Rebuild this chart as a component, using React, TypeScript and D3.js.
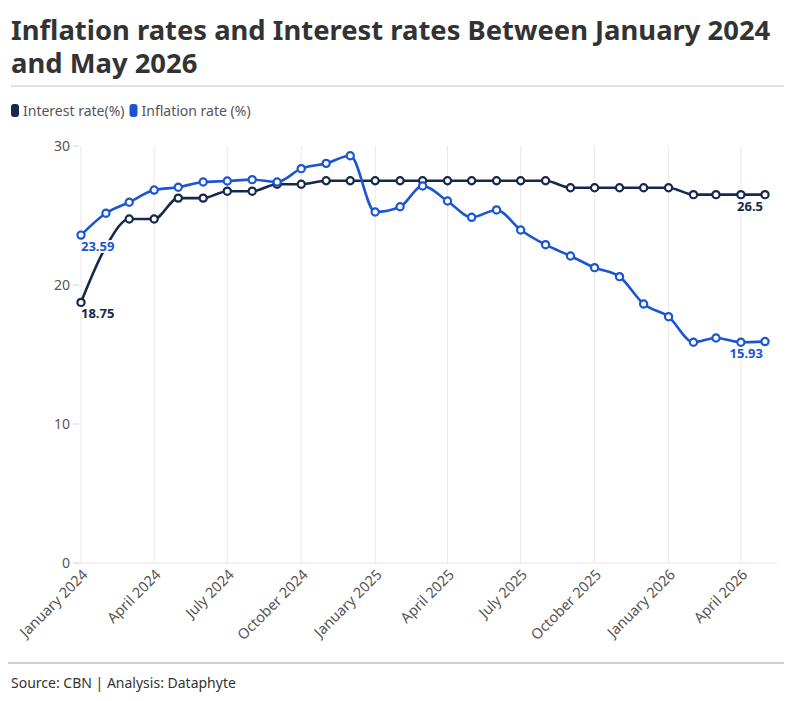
import { useRef, useEffect } from 'react'
import * as d3 from 'd3'

const WIDTH = 794
const HEIGHT = 701
const FONT = '"Noto Sans", sans-serif'

const DARK = '#15284d'
const BLUE = '#1b55d4'

// Monthly observations, January 2024 .. May 2026
const MONTHS = [
  '2024-01', '2024-02', '2024-03', '2024-04', '2024-05', '2024-06',
  '2024-07', '2024-08', '2024-09', '2024-10', '2024-11', '2024-12',
  '2025-01', '2025-02', '2025-03', '2025-04', '2025-05', '2025-06',
  '2025-07', '2025-08', '2025-09', '2025-10', '2025-11', '2025-12',
  '2026-01', '2026-02', '2026-03', '2026-04', '2026-05',
]

const INTEREST = [
  18.75, 22.75, 24.75, 24.75, 26.25, 26.25, 26.75, 26.75, 27.25, 27.25, 27.5, 27.5,
  27.5, 27.5, 27.5, 27.5, 27.5, 27.5, 27.5, 27.5, 27, 27, 27, 27,
  27, 26.5, 26.5, 26.5, 26.5,
]

const INFLATION = [
  23.59, 25.16, 25.95, 26.83, 27.03, 27.41, 27.48, 27.58, 27.41, 28.37, 28.75, 29.3,
  25.25, 25.63, 27.12, 26.04, 24.87, 25.4, 23.96, 22.9, 22.09, 21.25, 20.6, 18.63,
  17.72, 15.88, 16.19, 15.88, 15.93,
]

const X_TICKS = ['2024-01', '2024-04', '2024-07', '2024-10', '2025-01', '2025-04', '2025-07', '2025-10', '2026-01', '2026-04']
const Y_TICKS = [0, 10, 20, 30]

const SERIES = [
  { name: 'Interest rate(%)', values: INTEREST, color: DARK },
  { name: 'Inflation rate (%)', values: INFLATION, color: BLUE },
]

const parseMonth = d3.timeParse('%Y-%m')

export default function App() {
  const svgRef = useRef<SVGSVGElement>(null)

  useEffect(() => {
    if (!svgRef.current) return
    const svg = d3.select(svgRef.current)
    svg.selectAll('*').remove()

    const dates = MONTHS.map((m) => parseMonth(m) as Date)
    const x = d3.scaleTime().domain([dates[0], dates[dates.length - 1]]).range([81, 765])
    const y = d3.scaleLinear().domain([0, 30]).range([563, 146])

    // Title
    const title = svg.append('text')
      .attr('font-family', FONT).attr('font-weight', 700).attr('font-size', 27.4)
      .attr('fill', '#333333')
    title.append('tspan').attr('x', 11).attr('y', 40).text('Inflation rates and Interest rates Between January 2024')
    title.append('tspan').attr('x', 11).attr('y', 73).text('and May 2026')

    svg.append('line')
      .attr('x1', 11).attr('x2', 784).attr('y1', 86).attr('y2', 86)
      .attr('stroke', '#d9d9d9').attr('stroke-width', 1.5)

    // Legend
    let lx = 11
    SERIES.forEach((s) => {
      svg.append('rect')
        .attr('x', lx).attr('y', 104).attr('width', 8).attr('height', 13).attr('rx', 3)
        .attr('fill', s.color)
      const t = svg.append('text')
        .attr('x', lx + 12).attr('y', 116)
        .attr('font-family', FONT).attr('font-size', 14).attr('fill', '#555555')
        .text(s.name)
      const w = (t.node() as SVGTextElement).getComputedTextLength()
      lx += 12 + w + 5
    })

    // Vertical gridlines
    const xTickDates = X_TICKS.map((m) => parseMonth(m) as Date)
    svg.append('g')
      .selectAll('line')
      .data(xTickDates)
      .join('line')
      .attr('x1', (d) => x(d)).attr('x2', (d) => x(d))
      .attr('y1', y(30)).attr('y2', y(0))
      .attr('stroke', '#e8e8e8').attr('stroke-width', 1)

    // Baseline
    svg.append('line')
      .attr('x1', 77).attr('x2', 777).attr('y1', y(0)).attr('y2', y(0))
      .attr('stroke', '#e3e3e3').attr('stroke-width', 1)

    // Y axis
    const yAxis = svg.append('g')
    yAxis.selectAll('line')
      .data(Y_TICKS)
      .join('line')
      .attr('x1', 73).attr('x2', 79)
      .attr('y1', (d) => y(d)).attr('y2', (d) => y(d))
      .attr('stroke', '#d6d6d6')
    yAxis.selectAll('text')
      .data(Y_TICKS)
      .join('text')
      .attr('x', 70).attr('y', (d) => y(d)).attr('dy', '0.35em')
      .attr('text-anchor', 'end')
      .attr('font-family', FONT).attr('font-size', 14).attr('fill', '#555555')
      .text((d) => String(d))

    // X axis labels
    svg.append('g')
      .selectAll('text')
      .data(xTickDates)
      .join('text')
      .attr('transform', (d) => `translate(${x(d) + 4},${y(0) + 9}) rotate(-45)`)
      .attr('text-anchor', 'end')
      .attr('dy', '0.35em')
      .attr('font-family', FONT).attr('font-size', 14.5).attr('fill', '#555555')
      .text((d) => d3.timeFormat('%B %Y')(d))

    // Lines and markers
    const line = d3.line<number>()
      .x((_, i) => x(dates[i]))
      .y((d) => y(d))
      .curve(d3.curveMonotoneX)

    SERIES.forEach((s) => {
      const g = svg.append('g')
      g.append('path')
        .datum(s.values)
        .attr('d', line)
        .attr('fill', 'none')
        .attr('stroke', s.color)
        .attr('stroke-width', 2.6)
        .attr('stroke-linejoin', 'round')
      g.selectAll('circle')
        .data(s.values)
        .join('circle')
        .attr('cx', (_, i) => x(dates[i]))
        .attr('cy', (d) => y(d))
        .attr('r', 3.6)
        .attr('fill', '#ffffff')
        .attr('stroke', s.color)
        .attr('stroke-width', 2.2)
    })

    // Value labels (first and last points)
    const labels: { si: number; idx: number; anchor: string; dx: number }[] = [
      { si: 1, idx: 0, anchor: 'start', dx: 0 },
      { si: 0, idx: 0, anchor: 'start', dx: 0 },
      { si: 0, idx: MONTHS.length - 1, anchor: 'end', dx: -2 },
      { si: 1, idx: MONTHS.length - 1, anchor: 'end', dx: -2 },
    ]
    labels.forEach((l) => {
      const s = SERIES[l.si]
      const v = s.values[l.idx]
      svg.append('text')
        .attr('x', x(dates[l.idx]) + l.dx)
        .attr('y', y(v) + 16)
        .attr('text-anchor', l.anchor)
        .attr('font-family', FONT).attr('font-size', 13).attr('font-weight', 700)
        .attr('fill', s.color)
        .attr('stroke', '#ffffff').attr('stroke-width', 4).attr('paint-order', 'stroke')
        .attr('stroke-linejoin', 'round')
        .text(String(v))
    })

    // Footer
    svg.append('line')
      .attr('x1', 8).attr('x2', 784).attr('y1', 663).attr('y2', 663)
      .attr('stroke', '#d0d0d0').attr('stroke-width', 2)
    svg.append('text')
      .attr('x', 11).attr('y', 688)
      .attr('font-family', FONT).attr('font-size', 14).attr('fill', '#333333')
      .text('Source: CBN | Analysis: Dataphyte')
  }, [])

  return (
    <svg
      ref={svgRef}
      width={WIDTH}
      height={HEIGHT}
      style={{ position: 'absolute', left: 0, top: 0, background: '#ffffff' }}
    />
  )
}
